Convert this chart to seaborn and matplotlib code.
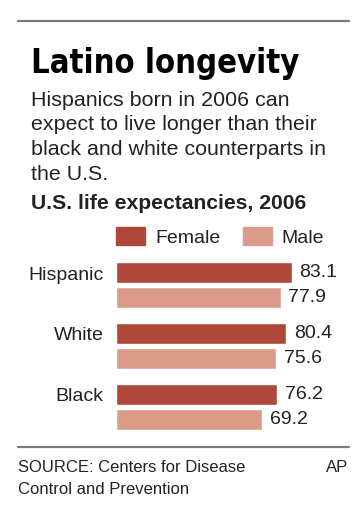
import pandas as pd
import matplotlib.pyplot as plt
import seaborn as sns
from matplotlib.transforms import ScaledTranslation

# ------------------------------------------------------------
# Data: U.S. life expectancies, 2006
# ------------------------------------------------------------
groups = ["Hispanic", "White", "Black"]
female = [83.1, 80.4, 76.2]
male = [77.9, 75.6, 69.2]

df = pd.DataFrame({
    "group": groups * 2,
    "sex": ["Female"] * 3 + ["Male"] * 3,
    "years": female + male,
})

FEMALE_C = "#b0483a"
MALE_C = "#da9b89"
RULE_C = "#7a7a7a"
TEXT_C = "#222222"

sns.set_theme(style="white")
plt.rcParams["font.family"] = ["Liberation Sans", "DejaVu Sans"]

W, H = 364, 512
fig = plt.figure(figsize=(W / 100, H / 100), dpi=100)


def fx(px):
    return px / W


def fy(py):
    return 1 - py / H


# bars axes: x=0 at 116px, x=100 at 327.5px
ax = fig.add_axes([fx(116), fy(437), fx(327.5) - fx(116), (437 - 255) / H])
sns.barplot(
    data=df, y="group", x="years", hue="sex", orient="h",
    palette=[FEMALE_C, MALE_C], width=0.82, gap=0.18,
    saturation=1, ax=ax,
)
ax.set_xlim(0, 100)
ax.set_ylim(2.492, -0.492)
ax.set_xlabel("")
ax.set_ylabel("")
ax.set_xticks([])
sns.despine(ax=ax, left=True, bottom=True)
ax.tick_params(axis="y", length=0, pad=9, labelsize=14, labelcolor=TEXT_C)

# category labels sit beside the Female bar
for lab in ax.get_yticklabels():
    lab.set_transform(lab.get_transform() + ScaledTranslation(0, 0.12, fig.dpi_scale_trans))

for cont in ax.containers:
    ax.bar_label(cont, fmt="%.1f", padding=5.5, fontsize=14, color=TEXT_C)

ax.legend_.remove()
handles = [plt.Rectangle((0, 0), 1, 1, color=FEMALE_C),
           plt.Rectangle((0, 0), 1, 1, color=MALE_C)]
fig.legend(handles, ["Female", "Male"], loc="upper left",
           bbox_to_anchor=(fx(116), fy(227)), ncol=2, frameon=False,
           fontsize=14, handlelength=1.5, handleheight=1.05,
           handletextpad=0.5, columnspacing=1.15, borderpad=0,
           borderaxespad=0, labelcolor=TEXT_C)

# rules
fig.add_artist(plt.Line2D([fx(18), fx(349)], [fy(21), fy(21)], color=RULE_C, lw=1.6))
fig.add_artist(plt.Line2D([fx(18), fx(349)], [fy(447), fy(447)], color=RULE_C, lw=1.6))

# header text
fig.text(fx(31), fy(73), "Latino longevity", fontsize=23.5, fontweight="bold",
         family="DejaVu Sans", fontstretch="condensed", color="black", va="baseline")
sub = ["Hispanics born in 2006 can",
       "expect to live longer than their",
       "black and white counterparts in",
       "the U.S."]
for i, line in enumerate(sub):
    fig.text(fx(31), fy(106 + i * 24.5), line, fontsize=15.4, color=TEXT_C, va="baseline")
fig.text(fx(31), fy(209), "U.S. life expectancies, 2006", fontsize=15.2,
         fontweight="bold", color=TEXT_C, va="baseline")

# footer
fig.text(fx(18), fy(472), "SOURCE: Centers for Disease", fontsize=12, color=TEXT_C, va="baseline")
fig.text(fx(18), fy(494), "Control and Prevention", fontsize=12, color=TEXT_C, va="baseline")
fig.text(fx(348), fy(472), "AP", fontsize=12, color=TEXT_C, va="baseline", ha="right")

fig.savefig("out.png", dpi=100, facecolor="white")
